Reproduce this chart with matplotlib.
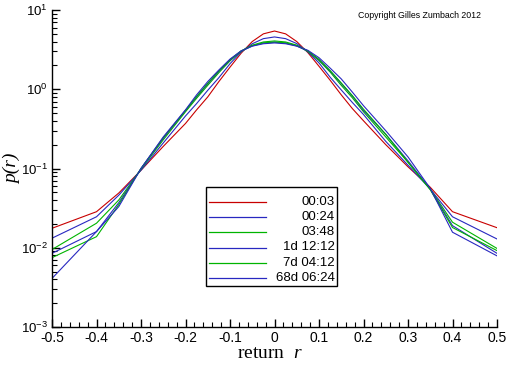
import numpy as np
import matplotlib
matplotlib.use("Agg")
import matplotlib.pyplot as plt
from matplotlib.lines import Line2D
from matplotlib.patches import Rectangle
from matplotlib.ticker import FixedLocator, LogLocator, FuncFormatter, NullFormatter


# =========================
# DATA
# =========================
r_vals = [-0.5, -0.4, -0.35, -0.3, -0.25,
          -0.2, -0.175, -0.15, -0.125, -0.1, -0.075, -0.05, -0.025, 0.0,
          0.025, 0.05, 0.075, 0.1, 0.125, 0.15, 0.175, 0.2,
          0.25, 0.3, 0.35, 0.4, 0.5]

labels = ["00:03", "00:24", "03:48", "1d 12:12", "7d 04:12", "68d 06:24"]

p_0003 = [0.0176, 0.0285, 0.049, 0.095, 0.19,
          0.37, 0.55, 0.80, 1.25, 1.9, 2.85, 4.0, 5.0, 5.43,
          5.0, 4.0, 2.9, 1.95, 1.3, 0.85, 0.57, 0.40,
          0.20, 0.105, 0.058, 0.0285, 0.0179]
p_0024 = [0.0132, 0.0246, 0.046, 0.095, 0.21,
          0.46, 0.66, 0.97, 1.4, 2.1, 2.95, 3.75, 4.35, 4.57,
          4.35, 3.77, 2.96, 2.15, 1.42, 0.98, 0.68, 0.48,
          0.22, 0.11, 0.055, 0.0246, 0.0129]
p_0348 = [0.0095, 0.0204, 0.040, 0.098, 0.23,
          0.52, 0.77, 1.12, 1.62, 2.28, 3.0, 3.6, 3.95, 4.07,
          3.95, 3.6, 3.0, 2.3, 1.65, 1.12, 0.78, 0.52,
          0.25, 0.12, 0.055, 0.021, 0.0098]
p_1d = [0.0085, 0.016, 0.037, 0.10, 0.24,
        0.54, 0.80, 1.17, 1.68, 2.33, 3.02, 3.52, 3.82, 3.92,
        3.82, 3.52, 3.02, 2.35, 1.7, 1.18, 0.82, 0.54,
        0.27, 0.125, 0.055, 0.019, 0.0085]
p_7d = [0.0075, 0.0138, 0.035, 0.10, 0.245,
        0.54, 0.81, 1.19, 1.7, 2.36, 3.05, 3.55, 3.85, 3.95,
        3.85, 3.55, 3.05, 2.38, 1.72, 1.2, 0.83, 0.56,
        0.27, 0.12, 0.054, 0.018, 0.0092]
p_68d = [0.0041, 0.016, 0.033, 0.10, 0.25,
         0.55, 0.85, 1.25, 1.75, 2.4, 3.05, 3.5, 3.75, 3.84,
         3.75, 3.5, 3.1, 2.5, 1.85, 1.35, 0.92, 0.62,
         0.30, 0.14, 0.056, 0.0157, 0.0079]

series = [p_0003, p_0024, p_0348, p_1d, p_7d, p_68d]

RED = "#c80000"
BLUE = "#2828c0"
GREEN = "#00b400"
colors = [RED, BLUE, GREEN, BLUE, GREEN, BLUE]


# =========================
# FIGURE
# =========================
W, H = 512, 366
plt.rcParams["font.family"] = ["Liberation Sans", "DejaVu Sans"]
plt.rcParams["mathtext.fontset"] = "custom"
plt.rcParams["mathtext.rm"] = "Liberation Sans"
plt.rcParams["mathtext.it"] = "Liberation Serif:italic"

fig = plt.figure(figsize=(W / 100, H / 100), dpi=100)
ax = fig.add_axes([52 / W, 1 - 327 / H, (497 - 52) / W, (327 - 10) / H])

for ys, c in zip(series, colors):
    ax.plot(r_vals, ys, color=c, lw=0.8)

ax.set_yscale("log")
ax.set_xlim(-0.5, 0.5)
ax.set_ylim(1e-3, 1e1)

ax.spines["top"].set_visible(False)
ax.spines["right"].set_visible(False)
for s in ("left", "bottom"):
    ax.spines[s].set_linewidth(1.0)

ax.xaxis.set_major_locator(FixedLocator(np.round(np.arange(-0.5, 0.51, 0.1), 2)))
ax.xaxis.set_minor_locator(FixedLocator(np.round(np.arange(-0.5, 0.51, 0.02), 2)))
ax.xaxis.set_major_formatter(FuncFormatter(lambda v, p: "0" if abs(v) < 1e-9 else f"{v:.1f}"))

ax.yaxis.set_major_locator(LogLocator(base=10, numticks=10))
ax.yaxis.set_minor_locator(LogLocator(base=10, subs=np.arange(2, 10), numticks=20))
ax.yaxis.set_minor_formatter(NullFormatter())
ax.yaxis.set_major_formatter(FuncFormatter(
    lambda v, p: r"$\mathregular{10^{%d}}$" % int(round(np.log10(v)))))

ax.tick_params(which="major", direction="in", length=6, width=1.0, colors="black")
ax.tick_params(which="minor", direction="in", length=3.5, width=0.8)
ax.tick_params(axis="x", which="major", labelsize=10, pad=3)
ax.tick_params(axis="y", which="major", labelsize=9.5, pad=3)

ax.set_xlabel(r"return  $r$", family="Liberation Serif", fontsize=14)
ax.xaxis.set_label_coords(0.49, -0.057)
ax.set_ylabel("p(r)", family="Liberation Serif", fontstyle="italic", fontsize=14)
ax.yaxis.set_label_coords(-0.07, 0.5)

fig.text(420 / W, 1 - 16 / H, "Copyright Gilles Zumbach 2012",
         fontsize=6.3, ha="center", va="center")

# legend box (drawn by hand to get right-aligned labels)
fig.add_artist(Rectangle((206 / W, 1 - 286 / H), (337 - 206) / W, (286 - 187) / H,
                         transform=fig.transFigure, fill=True, facecolor="white",
                         edgecolor="black", lw=1.0))
row_y = [201.7, 216.9, 232.2, 247.5, 262.8, 278.1]
for lab, c, yy in zip(labels, colors, row_y):
    fig.add_artist(Line2D([209 / W, 266 / W], [1 - yy / H, 1 - yy / H],
                          transform=fig.transFigure, color=c, lw=0.9))
    fig.text(335 / W, 1 - yy / H, lab, fontsize=9.5, ha="right", va="center")

fig.savefig("out.png", dpi=100)
